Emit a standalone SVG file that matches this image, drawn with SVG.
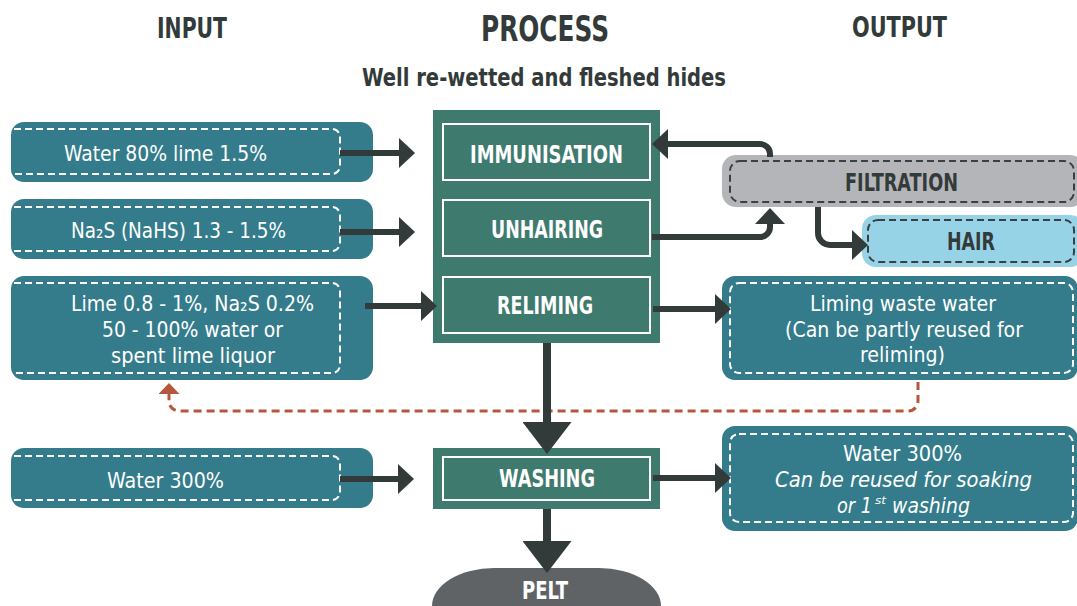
<svg xmlns="http://www.w3.org/2000/svg" width="1077" height="606" viewBox="0 0 1077 606">
<style>
text{font-family:"Liberation Sans Narrow","DejaVu Sans Condensed","Liberation Sans",Arial,sans-serif;text-anchor:middle}
.st{text-anchor:start}
.hd{fill:#333a3a;font-weight:bold}
.in{fill:#ffffff;font-size:22px}
.pl{fill:#ffffff;font-size:24px;font-weight:bold}
.dk{fill:#333a3a;font-size:24px;font-weight:bold}
.ib{fill:#347c8b}
.pb{fill:#3e7a6e}
.ir{fill:none;stroke:#ffffff;stroke-width:2}
.wd{fill:none;stroke:#ffffff;stroke-width:2;stroke-dasharray:7 4}
.dd{fill:none;stroke:#3a3f41;stroke-width:2;stroke-dasharray:7 4}
.c{fill:none;stroke:#323a3a;stroke-width:6}
.cb{fill:none;stroke:#323a3a;stroke-width:8}
.cr{fill:none;stroke:#b4573c;stroke-width:3;stroke-dasharray:8 5}
</style>
<defs>
<marker id="ah" viewBox="0 -15 16 30" refX="0" refY="0" markerWidth="16" markerHeight="30" markerUnits="userSpaceOnUse" orient="auto"><path d="M0,-15 L16,0 L0,15 z" fill="#323a3a"/></marker>
<marker id="big" viewBox="0 -24.5 32 49" refX="0" refY="0" markerWidth="32" markerHeight="49" markerUnits="userSpaceOnUse" orient="auto"><path d="M0,-24.5 L32,0 L0,24.5 z" fill="#323a3a"/></marker>
<marker id="red" viewBox="0 -10.5 11 21" refX="0" refY="0" markerWidth="11" markerHeight="21" markerUnits="userSpaceOnUse" orient="auto"><path d="M0,-10.5 L11,0 L0,10.5 z" fill="#b4573c"/></marker>
</defs>

<g id="headers">
<text class="hd" x="192" y="38" font-size="29" textLength="70" lengthAdjust="spacingAndGlyphs">INPUT</text>
<text class="hd" x="545" y="41" font-size="36" textLength="128" lengthAdjust="spacingAndGlyphs">PROCESS</text>
<text class="hd" x="899.5" y="37" font-size="29" textLength="95" lengthAdjust="spacingAndGlyphs">OUTPUT</text>
<text class="hd" x="544" y="86" font-size="24" textLength="364" lengthAdjust="spacingAndGlyphs">Well re-wetted and fleshed hides</text>
</g>

<g id="in1">
<rect class="ib" x="11" y="122" width="362" height="60" rx="13"/>
<path class="wd" d="M14,129 H332 A8,8 0 0 1 340,137 V166 A8,8 0 0 1 332,174 H14"/>
<text class="in" x="165.5" y="161" textLength="203" lengthAdjust="spacingAndGlyphs">Water 80% lime 1.5%</text>
</g>
<g id="in2">
<rect class="ib" x="11" y="199" width="362" height="60" rx="13"/>
<path class="wd" d="M14,207 H332 A8,8 0 0 1 340,215 V243 A8,8 0 0 1 332,251 H14"/>
<text class="in" x="178.5" y="238" textLength="215" lengthAdjust="spacingAndGlyphs">Na₂S (NaHS) 1.3 - 1.5%</text>
</g>
<g id="in3">
<rect class="ib" x="11" y="276" width="362" height="104" rx="13"/>
<path class="wd" d="M14,283 H332 A8,8 0 0 1 340,291 V365 A8,8 0 0 1 332,373 H14"/>
<text class="in" x="192.5" y="311" textLength="243" lengthAdjust="spacingAndGlyphs">Lime 0.8 - 1%, Na₂S 0.2%</text>
<text class="in" x="192.5" y="337" textLength="181" lengthAdjust="spacingAndGlyphs">50 - 100% water or</text>
<text class="in" x="193" y="363" textLength="164" lengthAdjust="spacingAndGlyphs">spent lime liquor</text>
</g>
<g id="in4">
<rect class="ib" x="11" y="448" width="362" height="60" rx="13"/>
<path class="wd" d="M14,456 H332 A8,8 0 0 1 340,464 V492 A8,8 0 0 1 332,500 H14"/>
<text class="in" x="165.5" y="488" textLength="117" lengthAdjust="spacingAndGlyphs">Water 300%</text>
</g>

<g id="process">
<rect class="pb" x="433" y="110" width="227" height="233"/>
</g>
<g id="immunisation">
<rect class="ir" x="443" y="124" width="207" height="56"/>
<text class="pl" x="546.5" y="163" textLength="153" lengthAdjust="spacingAndGlyphs">IMMUNISATION</text>
</g>
<g id="unhairing">
<rect class="ir" x="443" y="200" width="207" height="56"/>
<text class="pl" x="547" y="238" textLength="112" lengthAdjust="spacingAndGlyphs">UNHAIRING</text>
</g>
<g id="reliming">
<rect class="ir" x="443" y="277" width="207" height="56"/>
<text class="pl" x="545" y="314" textLength="96" lengthAdjust="spacingAndGlyphs">RELIMING</text>
</g>
<g id="washing">
<rect class="pb" x="433" y="448" width="227" height="61"/>
<rect class="ir" x="443" y="457" width="207" height="43"/>
<text class="pl" x="547" y="487" textLength="96" lengthAdjust="spacingAndGlyphs">WASHING</text>
</g>
<g id="pelt">
<rect x="432" y="568" width="229" height="80" rx="62" ry="38" fill="#5f6365"/>
<text class="pl" x="545" y="599" textLength="46" lengthAdjust="spacingAndGlyphs">PELT</text>
</g>

<g id="filtration">
<rect x="722" y="155" width="362" height="52" rx="14" fill="#b4b5b8"/>
<rect class="dd" x="730" y="161" width="344" height="41" rx="10"/>
<text class="dk" x="901.5" y="191" textLength="113" lengthAdjust="spacingAndGlyphs">FILTRATION</text>
</g>
<g id="hair">
<rect x="862" y="215" width="222" height="52" rx="14" fill="#97d3e6"/>
<rect class="dd" x="868" y="220" width="206" height="42" rx="10"/>
<text class="dk" x="971" y="250" textLength="48" lengthAdjust="spacingAndGlyphs">HAIR</text>
</g>
<g id="out1">
<rect class="ib" x="722" y="276" width="356" height="104" rx="13"/>
<rect class="wd" x="730" y="283" width="343" height="90" rx="9"/>
<text class="in" x="903" y="311" textLength="186" lengthAdjust="spacingAndGlyphs">Liming waste water</text>
<text class="in" x="904" y="337" textLength="238" lengthAdjust="spacingAndGlyphs">(Can be partly reused for</text>
<text class="in" x="902.5" y="362" textLength="85" lengthAdjust="spacingAndGlyphs">reliming)</text>
</g>
<g id="out2">
<rect class="ib" x="722" y="426" width="356" height="105" rx="13"/>
<rect class="wd" x="730" y="434" width="343" height="88" rx="9"/>
<text class="in" x="902.5" y="461" textLength="119" lengthAdjust="spacingAndGlyphs">Water 300%</text>
<text class="in" x="903.5" y="487" font-style="italic" textLength="257" lengthAdjust="spacingAndGlyphs">Can be reused for soaking</text>
<text class="in st" x="837" y="513" font-style="italic" textLength="35" lengthAdjust="spacingAndGlyphs">or 1</text>
<text class="st" x="875" y="504" font-size="11" font-style="italic" fill="#ffffff" textLength="11" lengthAdjust="spacingAndGlyphs">st</text>
<text class="in st" x="892" y="513" font-style="italic" textLength="78" lengthAdjust="spacingAndGlyphs">washing</text>
</g>

<g id="connectors">
<path class="cr" d="M918,382 V401 A10,10 0 0 1 908,411 H179 A10,10 0 0 1 169,401 V394" marker-end="url(#red)"/>
<path class="c" d="M340,153 H399" marker-end="url(#ah)"/>
<path class="c" d="M340,232 H399" marker-end="url(#ah)"/>
<path class="c" d="M365,306 H421" marker-end="url(#ah)"/>
<path class="c" d="M770,157 V154 A10,10 0 0 0 760,144 H668" marker-end="url(#ah)"/>
<path class="c" d="M652,237 H760 A10,10 0 0 0 770,227 V224" marker-end="url(#ah)"/>
<path class="c" d="M818,207 V233 A12,12 0 0 0 830,245 H852" marker-end="url(#ah)"/>
<path class="c" d="M653,309 H715" marker-end="url(#ah)"/>
<path class="cb" d="M547,343 V422" marker-end="url(#big)"/>
<path class="c" d="M340,479 H398" marker-end="url(#ah)"/>
<path class="c" d="M653,478 H715" marker-end="url(#ah)"/>
<path class="cb" d="M547,509 V541" marker-end="url(#big)"/>
</g>
</svg>
